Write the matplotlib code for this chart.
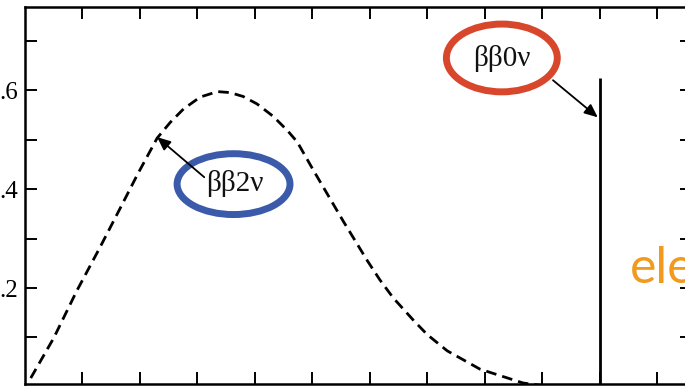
import matplotlib
matplotlib.use("Agg")
import matplotlib.pyplot as plt
from matplotlib.patches import Ellipse

# ---- data (x = electron energy / Q, y = rate) ----
spec_x = [0.01, 0.05, 0.09, 0.13, 0.166, 0.196, 0.23, 0.253, 0.276, 0.305,
          0.335, 0.357, 0.38, 0.404, 0.432, 0.457, 0.474, 0.502, 0.554,
          0.596, 0.618, 0.641, 0.676, 0.70, 0.735, 0.792, 0.867, 0.90]
spec_y = [0.018, 0.099, 0.194, 0.281, 0.362, 0.430, 0.503, 0.535, 0.562,
          0.586, 0.597, 0.595, 0.587, 0.572, 0.547, 0.518, 0.495, 0.438,
          0.335, 0.255, 0.216, 0.180, 0.135, 0.106, 0.073, 0.036, 0.008,
          0.003]
peak0_x = 1.0
peak0_top = 0.624
x_ticks = [0.1 * i for i in range(1, 12)]
y_ticks = [0.1, 0.2, 0.3, 0.4, 0.5, 0.6, 0.7]
y_labels = ["", ".2", "", ".4", "", ".6", ""]
label_2nu = "ββ2ν"
label_0nu = "ββ0ν"
side_text = "ele"

W, H = 685, 387
fig = plt.figure(figsize=(W / 100, H / 100), dpi=100)
ax = fig.add_axes([25 / W, 3 / H, (692 - 25) / W, (384 - 7) / H])
ax.set_xlim(0, 1.161)
ax.set_ylim(0.006, 0.768)

serif = ["Liberation Serif", "DejaVu Serif"]

# 2 neutrino spectrum (dashed)
ax.plot(spec_x, spec_y, color="black", lw=2.0, linestyle=(0, (3.8, 2.2)))
# 0 neutrino line
ax.plot([peak0_x, peak0_x], [0, peak0_top], color="black", lw=2.0,
        solid_capstyle="butt")

# spines and ticks
for s in ax.spines.values():
    s.set_linewidth(1.8)
ax.set_xticks(x_ticks)
ax.set_xticklabels([])
ax.set_yticks(y_ticks)
ax.set_yticklabels(y_labels, fontfamily=serif, fontsize=18)
ax.tick_params(direction="in", length=8.5, width=1.4, top=True, right=True,
               pad=5)

# annotations
ax.annotate("", xy=(0.230, 0.505), xytext=(0.312, 0.424),
            arrowprops=dict(arrowstyle="-|>,head_length=0.8,head_width=0.35",
                            color="black", lw=1.3, shrinkA=0, shrinkB=0))
ax.text(0.366, 0.412, label_2nu, ha="center", va="center",
        fontfamily=serif, fontsize=21, color="#111111")
ax.add_patch(Ellipse((0.363, 0.410), 0.1965, 0.123, fill=False,
                     edgecolor="#3B5BAA", lw=5))

ax.annotate("", xy=(0.997, 0.545), xytext=(0.919, 0.620),
            arrowprops=dict(arrowstyle="-|>,head_length=0.8,head_width=0.35",
                            color="black", lw=1.3, shrinkA=0, shrinkB=0))
ax.text(0.830, 0.663, label_0nu, ha="center", va="center",
        fontfamily=serif, fontsize=21, color="#111111")
ax.add_patch(Ellipse((0.830, 0.665), 0.193, 0.137, fill=False,
                     edgecolor="#D8462B", lw=5))

ax.text(1.052, 0.21, side_text, ha="left", va="baseline",
        fontfamily=["Lato", "DejaVu Sans"], fontsize=36, color="#F29A1E")

fig.savefig("out.png", dpi=100)
